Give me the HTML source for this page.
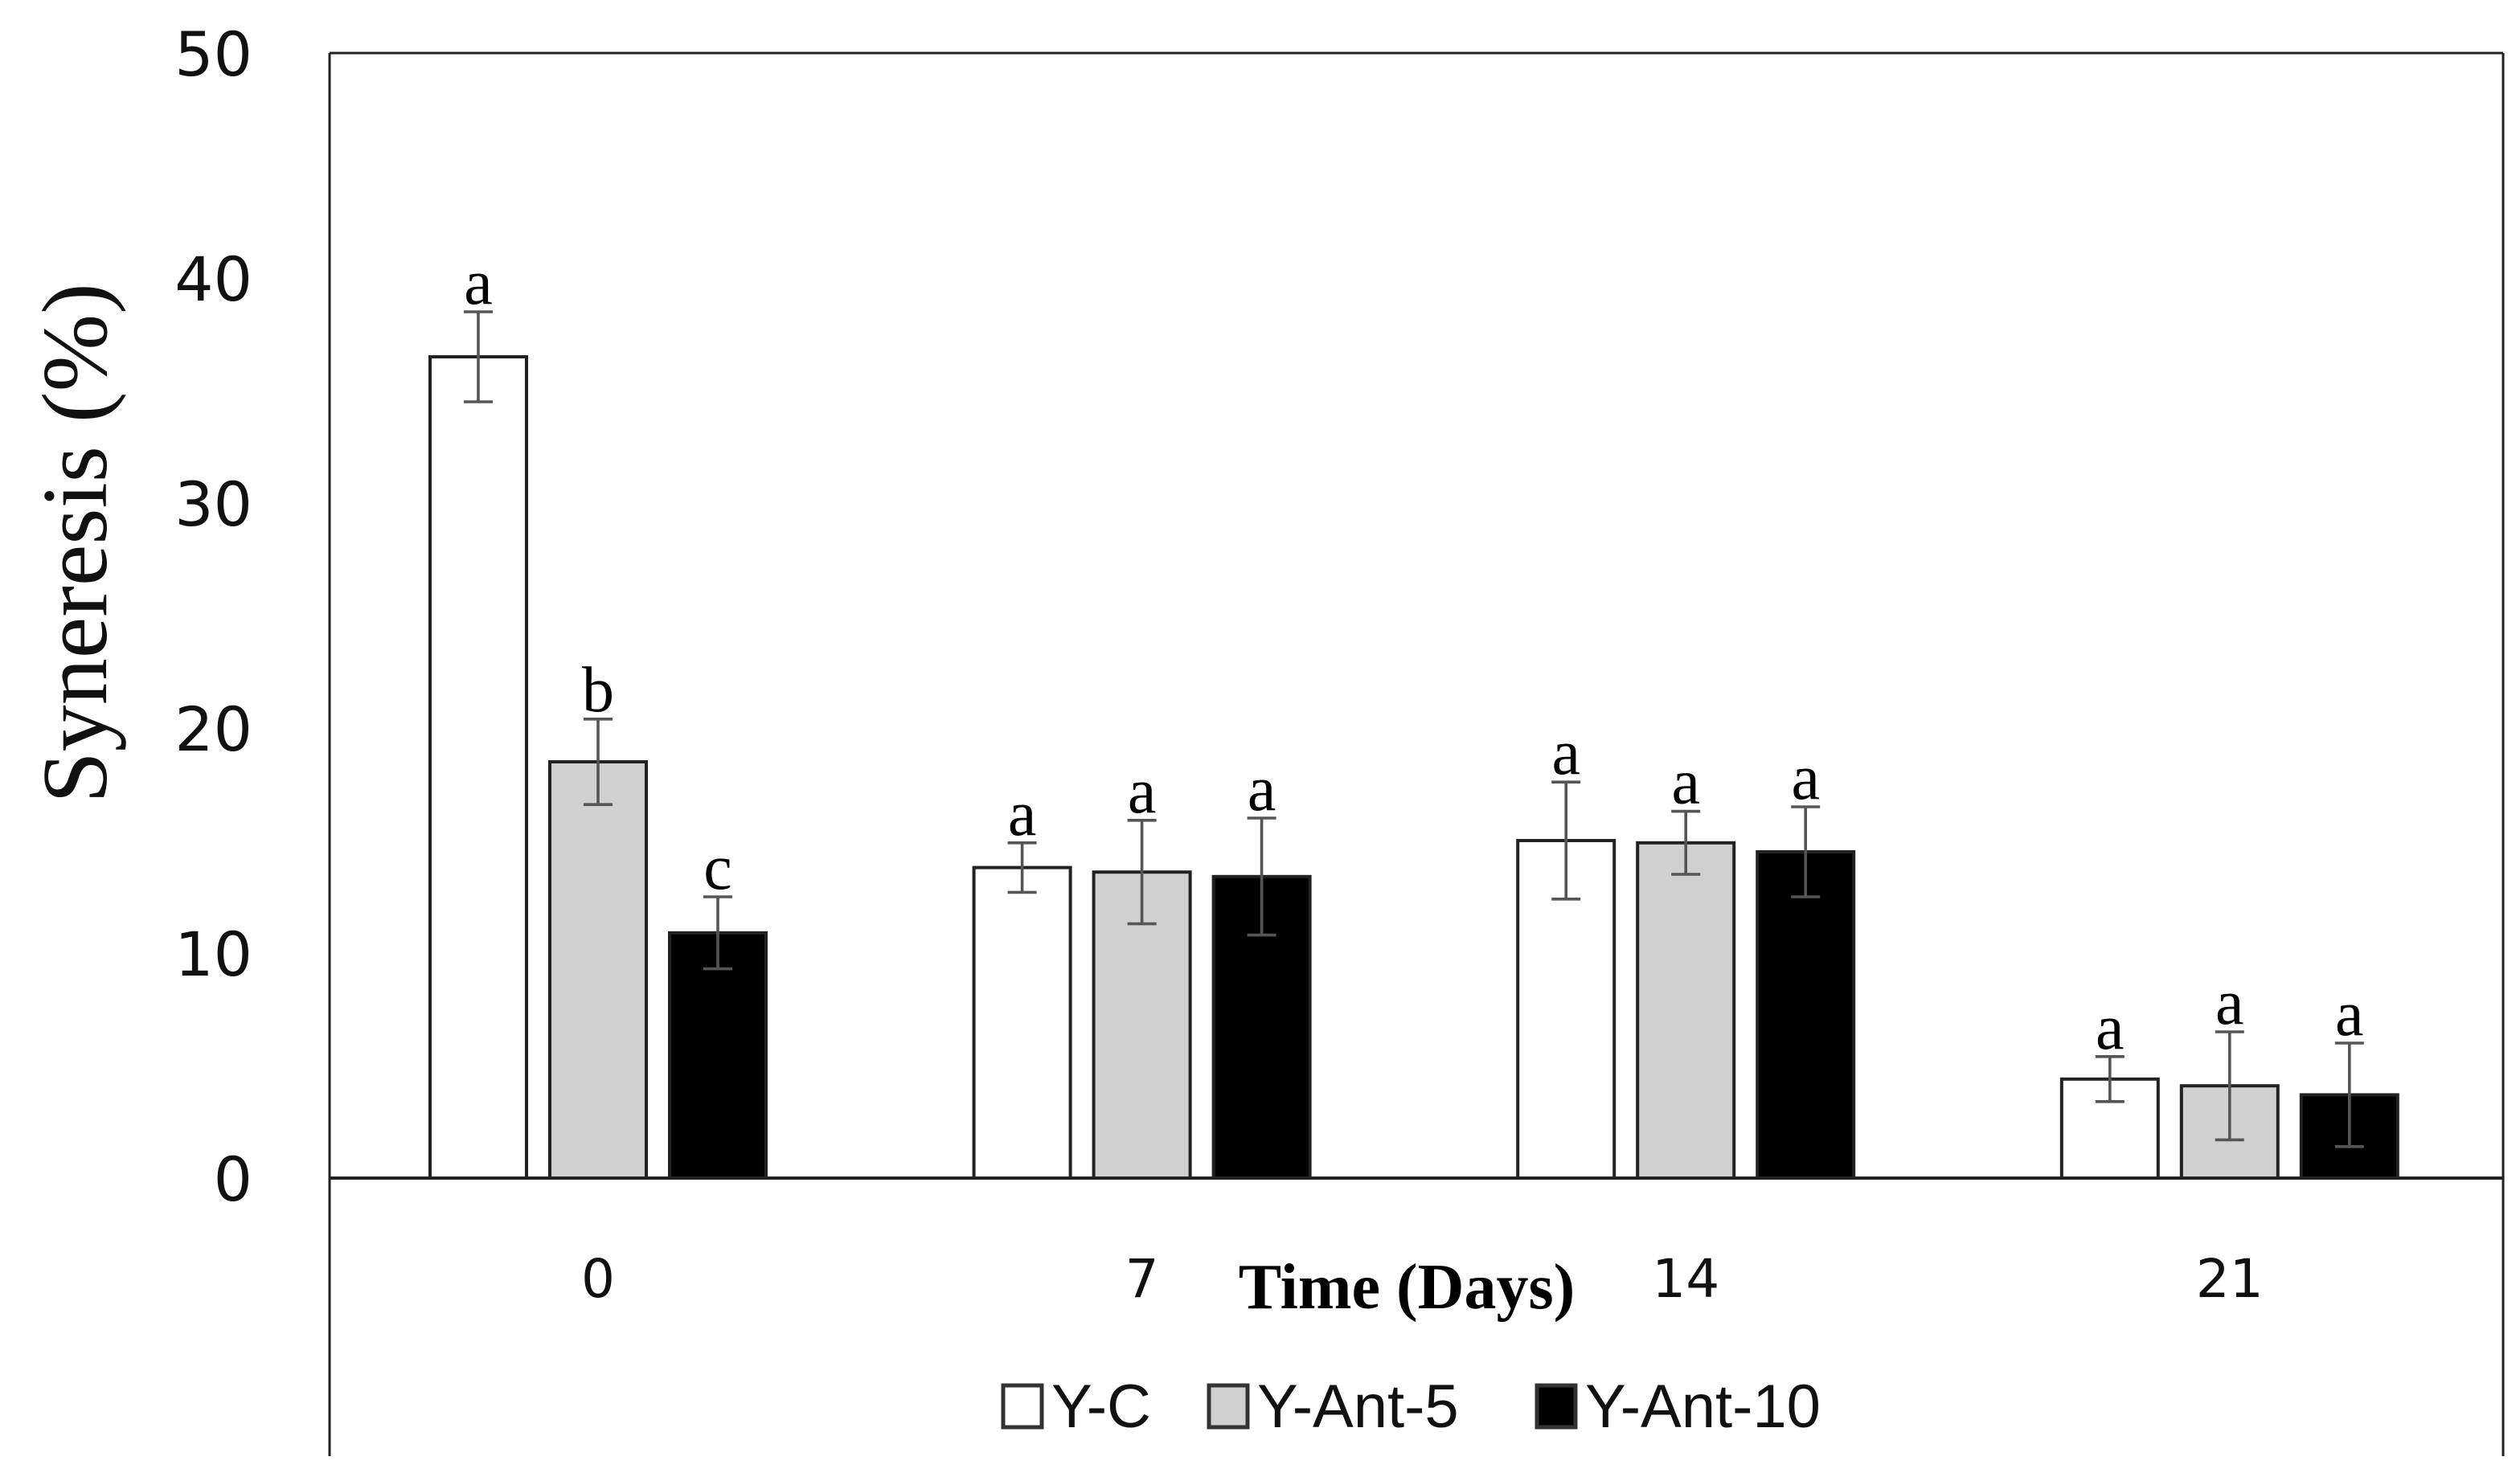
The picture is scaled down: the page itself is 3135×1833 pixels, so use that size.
<!DOCTYPE html>
<html><head><meta charset="utf-8"><style>
html,body{margin:0;padding:0;background:#fff}
svg{display:block}
</style></head><body>
<svg id="chart" width="3135" height="1833" viewBox="0 0 1567.5 916.5" xmlns="http://www.w3.org/2000/svg">
<rect x="0" y="0" width="1567.5" height="916.5" fill="#fff"/>
<g id="frame" stroke="#222" stroke-width="1.5" fill="none">
<line x1="205" y1="33" x2="1557" y2="33"/>
<line x1="205" y1="33" x2="205" y2="906"/>
<line x1="1557" y1="33" x2="1557" y2="906"/>
</g>
<g id="yticks"></g>
<g id="bars"></g>
<g id="xticks"></g>
<line x1="205" y1="733" x2="1557" y2="733" stroke="#222" stroke-width="2"/>
<text transform="translate(66,338) rotate(-90)" text-anchor="middle" font-family="Liberation Serif, serif" font-size="58" fill="#111">Syneresis (%)</text>
<text x="875" y="814" text-anchor="middle" font-family="Liberation Serif, serif" font-weight="bold" font-size="40" fill="#000">Time (Days)</text>
<g id="legend"></g>
</svg>
<script>
const categories = ["0", "7", "14", "21"];
const seriesNames = ["Y-C", "Y-Ant-5", "Y-Ant-10"];
const ycValues = [36.5, 13.8, 15.0, 4.4];
const ant5Values = [18.5, 13.6, 14.9, 4.1];
const ant10Values = [10.9, 13.4, 14.5, 3.7];
const ycErrors = [2.0, 1.1, 2.6, 1.0];
const ant5Errors = [1.9, 2.3, 1.4, 2.4];
const ant10Errors = [1.6, 2.6, 2.0, 2.3];
const ycLetters = ["a", "a", "a", "a"];
const ant5Letters = ["b", "a", "a", "a"];
const ant10Letters = ["c", "a", "a", "a"];
const yTicks = [0, 10, 20, 30, 40, 50];

const NS = "http://www.w3.org/2000/svg";
const Y0 = 733, PX_PER_UNIT = 14;
function yScale(v){ return Y0 - v * PX_PER_UNIT; }
function xCenter(i){ return 372 + i * 338.3; }
const BAR_W = 60, BAR_STEP = 74.5;
const fills = ["#ffffff", "#d0d0d0", "#000000"];
const series = [ycValues, ant5Values, ant10Values];
const errs = [ycErrors, ant5Errors, ant10Errors];
const letters = [ycLetters, ant5Letters, ant10Letters];

function mk(tag, attrs, parent){
  const el = document.createElementNS(NS, tag);
  for (const k in attrs) el.setAttribute(k, attrs[k]);
  parent.appendChild(el);
  return el;
}

const yt = document.getElementById('yticks');
yTicks.forEach(t => {
  const el = mk('text', {x:157, y:yScale(t)+14, 'text-anchor':'end', 'font-family':'DejaVu Sans, sans-serif', 'font-size':38, fill:'#111'}, yt);
  
  
  el.textContent = t;
});

const xt = document.getElementById('xticks');
categories.forEach((c, i) => {
  const el = mk('text', {x:xCenter(i), y:807, 'text-anchor':'middle', 'font-family':'DejaVu Sans, sans-serif', 'font-size':33, fill:'#111'}, xt);
  
  
  el.textContent = c;
});

const bg = document.getElementById('bars');
categories.forEach((c, i) => {
  series.forEach((vals, s) => {
    const cx = xCenter(i) + (s - 1) * BAR_STEP;
    const top = yScale(vals[i]);
    const r = mk('rect', {x:cx-BAR_W/2, y:top, width:BAR_W, height:Y0-top, fill:fills[s], stroke:'#222', 'stroke-width':2}, bg);
    
    
    const hi = yScale(vals[i] + errs[s][i]);
    const lo = yScale(vals[i] - errs[s][i]);
    const eg = mk('g', {stroke:'#555', 'stroke-width':1.8}, bg);
    
    
    mk('line', {x1:cx, y1:hi, x2:cx, y2:lo}, eg);
    mk('line', {x1:cx-9, y1:hi, x2:cx+9, y2:hi}, eg);
    mk('line', {x1:cx-9, y1:lo, x2:cx+9, y2:lo}, eg);
    const lt = mk('text', {x:cx, y:hi-5, 'text-anchor':'middle', 'font-family':'Liberation Serif, serif', 'font-size':40, fill:'#000'}, bg);
    
    
    lt.textContent = letters[s][i];
  });
});

const lg = document.getElementById('legend');
const legX = [624, 752, 956];
seriesNames.forEach((n, s) => {
  const g = mk('g', {}, lg);
  
  
  mk('rect', {x:legX[s], y:862, width:24, height:26, fill:fills[s], stroke:'#333', 'stroke-width':2.5}, g);
  const t = mk('text', {x:legX[s]+30, y:888, 'font-family':'Liberation Sans Narrow, Liberation Sans, sans-serif', 'font-size':38, fill:'#111', transform:'', textLength:'', 'font-stretch':'condensed'}, g);
  t.removeAttribute('transform');
  t.removeAttribute('textLength');
  t.textContent = n;
});
</script>
</body></html>
